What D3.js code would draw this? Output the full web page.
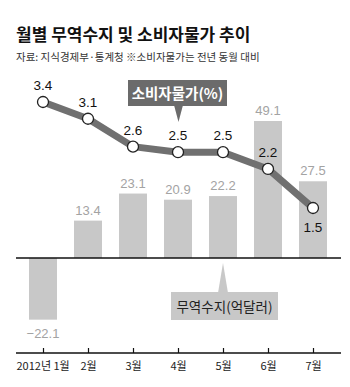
<!DOCTYPE html>
<html><head><meta charset="utf-8">
<script src="https://cdn.jsdelivr.net/npm/d3@7"></script>
<style>body{margin:0;background:#fff}svg{display:block}</style>
</head><body>
<svg id="c" width="350" height="387"></svg>
<script>
const months = ["2012년 1월","2월","3월","4월","5월","6월","7월"];
const trade = [-22.1, 13.4, 23.1, 20.9, 22.2, 49.1, 27.5];
const cpi = [3.4, 3.1, 2.6, 2.5, 2.5, 2.2, 1.5];
const title = "월별 무역수지 및 소비자물가 추이";
const subtitle = "자료: 지식경제부·통계청 ※소비자물가는 전년 동월 대비";
const cpiLabel = "소비자물가(%)";
const tradeLabel = "무역수지(억달러)";

const svg = d3.select("#c");
const kr = "'Noto Sans CJK KR','Noto Sans',sans-serif";
const num = "'Liberation Sans',Arial,sans-serif";

const x = d3.scalePoint().domain(months).range([20.5, 335.5]).padding(0.5);
const yBar = d3.scaleLinear().domain([0, 50]).range([258, 118.5]);
const yLine = d3.scaleLinear().domain([1.5, 3.4]).range([208, 102]);
const barW = 28;

svg.append("text").attr("x", 16).attr("y", 41).attr("font-family", kr)
  .attr("font-size", 17).attr("font-weight", 700).attr("fill", "#111").text(title);
svg.append("text").attr("x", 16).attr("y", 61).attr("font-family", kr)
  .attr("font-size", 10.5).attr("fill", "#333").text(subtitle);

// bars
svg.selectAll("rect.bar").data(trade).join("rect").attr("class", "bar")
  .attr("x", (d, i) => x(months[i]) - barW / 2)
  .attr("width", barW)
  .attr("y", d => Math.min(yBar(d), yBar(0)))
  .attr("height", d => Math.abs(yBar(d) - yBar(0)))
  .attr("fill", "#c8c8c8");

svg.selectAll("text.bl").data(trade).join("text").attr("class", "bl")
  .attr("x", (d, i) => x(months[i]))
  .attr("y", d => d >= 0 ? yBar(d) - 6 : yBar(d) + 18)
  .attr("text-anchor", "middle").attr("font-family", num).attr("font-size", 13)
  .attr("fill", "#a3a3a3")
  .text(d => d < 0 ? "−" + Math.abs(d).toFixed(1) : d.toFixed(1));

// zero line
svg.append("line").attr("x1", 16).attr("x2", 341).attr("y1", yBar(0)).attr("y2", yBar(0))
  .attr("stroke", "#111").attr("stroke-width", 1.5);

// trade legend
const tg = svg.append("g");
tg.append("path").attr("d", `M218,293 L223,263 L228,293 Z`).attr("fill", "#c8c8c8");
tg.append("rect").attr("x", 171).attr("y", 292).attr("width", 107).attr("height", 28).attr("fill", "#c8c8c8");
tg.append("text").attr("x", 224.5).attr("y", 312).attr("text-anchor", "middle")
  .attr("font-family", kr).attr("font-size", 13.5).attr("fill", "#222").text(tradeLabel);

// line
const line = d3.line().x((d, i) => x(months[i])).y(d => yLine(d));
svg.append("path").datum(cpi).attr("d", line).attr("fill", "none")
  .attr("stroke", "#707070").attr("stroke-width", 7).attr("stroke-linejoin", "round");
svg.selectAll("circle.pt").data(cpi).join("circle").attr("class", "pt")
  .attr("cx", (d, i) => x(months[i])).attr("cy", d => yLine(d)).attr("r", 5.5)
  .attr("fill", "#fff").attr("stroke", "#222").attr("stroke-width", 1.3);
svg.selectAll("text.pl").data(cpi).join("text").attr("class", "pl")
  .attr("x", (d, i) => x(months[i]))
  .attr("y", (d, i) => i === cpi.length - 1 ? yLine(d) + 24 : yLine(d) - 12)
  .attr("text-anchor", "middle").attr("font-family", num).attr("font-size", 13.5)
  .attr("fill", "#111").text(d => d.toFixed(1));

// cpi legend
const cg = svg.append("g");
cg.append("path").attr("d", `M174,105 L178.5,122 L183,105 Z`).attr("fill", "#6b6b6b");
cg.append("rect").attr("x", 128).attr("y", 80).attr("width", 99).attr("height", 26).attr("fill", "#6b6b6b");
cg.append("text").attr("x", 177.5).attr("y", 98.5).attr("text-anchor", "middle")
  .attr("font-family", kr).attr("font-size", 14.5).attr("font-weight", 700).attr("fill", "#fff").text(cpiLabel);

// bottom axis
const axisY = 353;
svg.append("line").attr("x1", 16).attr("x2", 341).attr("y1", axisY).attr("y2", axisY)
  .attr("stroke", "#111").attr("stroke-width", 1.5);
const ax = svg.append("g").attr("transform", `translate(0,${axisY})`)
  .call(d3.axisBottom(x).tickSize(-5).tickPadding(9));
ax.select(".domain").remove();
ax.selectAll(".tick line").attr("stroke", "#111").attr("stroke-width", 1.2);
ax.selectAll(".tick text").attr("font-family", kr).attr("font-size", 11).attr("fill", "#222");
ax.selectAll(".tick text").filter((d, i) => i === 0).attr("text-anchor", "start").attr("x", 16 - x(months[0]));
</script>
</body></html>
